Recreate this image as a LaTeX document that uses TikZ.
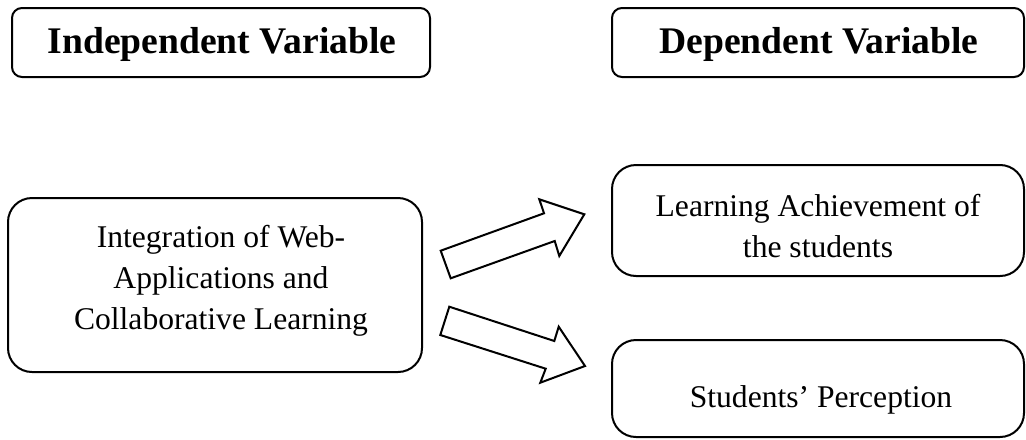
\documentclass[tikz,border=0pt]{standalone}
\usepackage{fontspec}
\setmainfont{Liberation Serif}
\begin{document}
\begin{tikzpicture}[x=0.5pt,y=-0.5pt,
  headbox/.style={draw, line width=1pt, rounded corners=5pt, minimum width=#1, minimum height=34.5pt, inner sep=0pt},
  varbox/.style={draw, line width=1pt, rounded corners=12pt, inner sep=0pt},
  headtxt/.style={font=\fontsize{18.8}{22}\selectfont\bfseries},
  bodytxt/.style={font=\fontsize{15.8}{20.5}\selectfont, align=center},
  blockarrow/.style={draw, line width=1pt, line join=miter, fill=white}]
\useasboundingbox (0,0) rectangle (1026,439);

% column headings
\node[headbox=209pt] (indep) at (221,42.5) {};
\node[headtxt] (indeptxt) at (222,44) {Independent Variable};
\node[headbox=206pt] (dep) at (818,42.5) {};
\node[headtxt] (deptxt) at (819,44) {Dependent Variable};

% variables
\node[varbox, minimum width=207pt, minimum height=87pt] (iv) at (215,285) {};
\node[bodytxt] (ivtxt) at (221,281) {Integration of Web-\\Applications and\\Collaborative Learning};
\node[varbox, minimum width=206pt, minimum height=55.5pt] (la) at (818,220.5) {};
\node[bodytxt] (latxt) at (818,226) {Learning Achievement of\\the students};
\node[varbox, minimum width=206pt, minimum height=48.5pt] (sp) at (818,388.5) {};
\node[bodytxt] (sptxt) at (821,400) {Students’ Perception};

% block arrows
\draw[blockarrow] (450.7,278.3) -- (440.7,250.7) -- (544,213.3) -- (539.3,199.3)
  -- (584.3,214.3) -- (559.3,256) -- (554.7,241) -- cycle;
\draw[blockarrow] (449.3,306.7) -- (554.3,341) -- (558.7,326.7) -- (585,366)
  -- (540.3,382.7) -- (545.7,368.7) -- (440.3,335) -- cycle;
\end{tikzpicture}
\end{document}
